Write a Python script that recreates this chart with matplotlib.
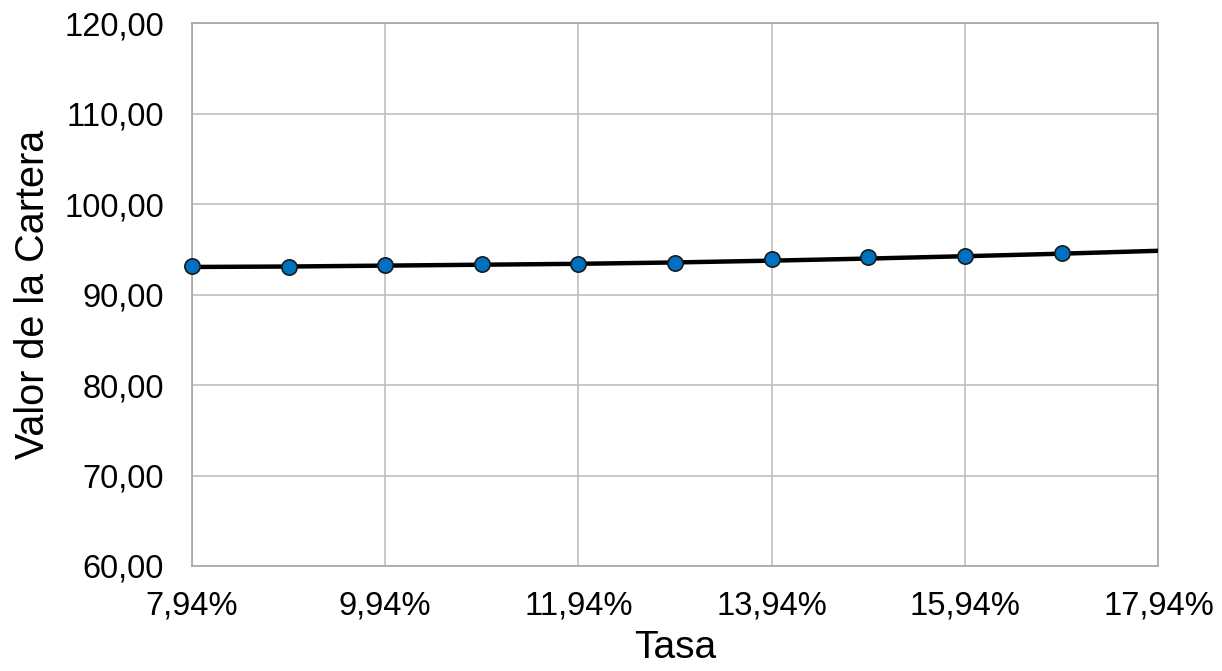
import matplotlib.pyplot as plt
from matplotlib.ticker import FuncFormatter, MultipleLocator

plt.rcParams['font.family'] = ['Liberation Sans', 'DejaVu Sans']

# tasa (%) y valor de la cartera
tasa_pts = [7.94, 8.94, 9.94, 10.94, 11.94, 12.94, 13.94, 14.94, 15.94, 16.94]
valor_pts = [93.12, 93.07, 93.24, 93.36, 93.37, 93.54, 93.90, 94.10, 94.29, 94.60]

tasa_linea = [7.94, 8.94, 9.94, 10.94, 11.94, 12.94, 13.94, 14.94, 15.94, 16.94, 17.94]
valor_linea = [93.05, 93.10, 93.20, 93.30, 93.40, 93.55, 93.75, 93.98, 94.24, 94.52, 94.84]

fig = plt.figure(figsize=(12.22, 6.71), dpi=100)
ax = fig.add_axes([0.157, 0.1565, 0.791, 0.809])

ax.plot(tasa_linea, valor_linea, color='black', lw=3.2, zorder=3)
ax.plot(tasa_pts, valor_pts, ls='none', marker='o', ms=11, mfc='#0070C0',
        mec='#1a1a1a', mew=1.2, zorder=4, clip_on=False)

ax.set_xlim(7.94, 17.94)
ax.set_ylim(60, 120)
ax.set_xticks([7.94, 9.94, 11.94, 13.94, 15.94, 17.94])
ax.yaxis.set_major_locator(MultipleLocator(10))
ax.xaxis.set_major_formatter(FuncFormatter(lambda v, p: f'{v:.2f}%'.replace('.', ',')))
ax.yaxis.set_major_formatter(FuncFormatter(lambda v, p: f'{v:.2f}'.replace('.', ',')))

ax.grid(True, color='#BFBFBF', lw=1.2)
ax.set_axisbelow(True)
for s in ax.spines.values():
    s.set_color('#A6A6A6')
    s.set_linewidth(1.2)

ax.tick_params(axis='both', length=0, labelsize=23.5)
ax.tick_params(axis='x', pad=18)
ax.tick_params(axis='y', pad=20)

ax.set_xlabel('Tasa', fontsize=28, labelpad=6)
ax.set_ylabel('Valor de la Cartera', fontsize=28.5, labelpad=9)

fig.savefig('out.png', dpi=100)
